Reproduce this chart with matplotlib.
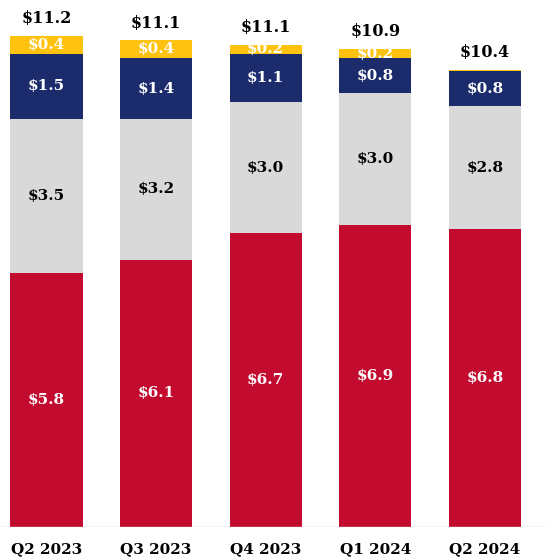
import numpy as np
import matplotlib
matplotlib.use("Agg")
import matplotlib.pyplot as plt

quarters = ["Q2 2023", "Q3 2023", "Q4 2023", "Q1 2024", "Q2 2024"]
red_vals = [5.8, 6.1, 6.7, 6.9, 6.8]
gray_vals = [3.5, 3.2, 3.0, 3.0, 2.8]
navy_vals = [1.5, 1.4, 1.1, 0.8, 0.8]
yellow_vals = [0.4, 0.4, 0.2, 0.2, 0.03]
yellow_labels = ["$0.4", "$0.4", "$0.2", "$0.2", ""]
totals = ["$11.2", "$11.1", "$11.1", "$10.9", "$10.4"]

colors = ["#C20B2F", "#D9D9D9", "#1B2B6C", "#FFC20E"]
text_colors = ["white", "black", "white", "white"]

plt.rcParams["font.family"] = ["DejaVu Serif"]
fig = plt.figure(figsize=(5.48, 5.6), dpi=100)
ax = fig.add_axes([0, 33 / 560, 1, 526 / 560])

x = np.arange(len(quarters))
bottom = np.zeros(len(quarters))
series = [red_vals, gray_vals, navy_vals, yellow_vals]
for i, vals in enumerate(series):
    vals = np.array(vals)
    ax.bar(x, vals, width=0.66, bottom=bottom, color=colors[i], edgecolor="none")
    for j, v in enumerate(vals):
        if i == 3:
            lab = yellow_labels[j]
        else:
            lab = f"${v:.1f}"
        if lab:
            ax.text(x[j], bottom[j] + v / 2, lab, ha="center", va="center",
                    color=text_colors[i], fontsize=11, fontweight="bold")
    bottom += vals

for j in range(len(quarters)):
    ax.text(x[j], bottom[j] + 0.2, totals[j], ha="center", va="bottom",
            color="black", fontsize=11.5, fontweight="bold")

ax.axhline(0, color="#CCCCCC", linewidth=1)
ax.set_xlim(-0.424, 4.576)
ax.set_ylim(0, 12.0)
ax.set_xticks(x)
ax.set_xticklabels(quarters, fontsize=11, fontweight="bold")
ax.tick_params(axis="x", length=0, pad=11)
ax.set_yticks([])
for s in ax.spines.values():
    s.set_visible(False)

fig.savefig("out.png", dpi=100)
